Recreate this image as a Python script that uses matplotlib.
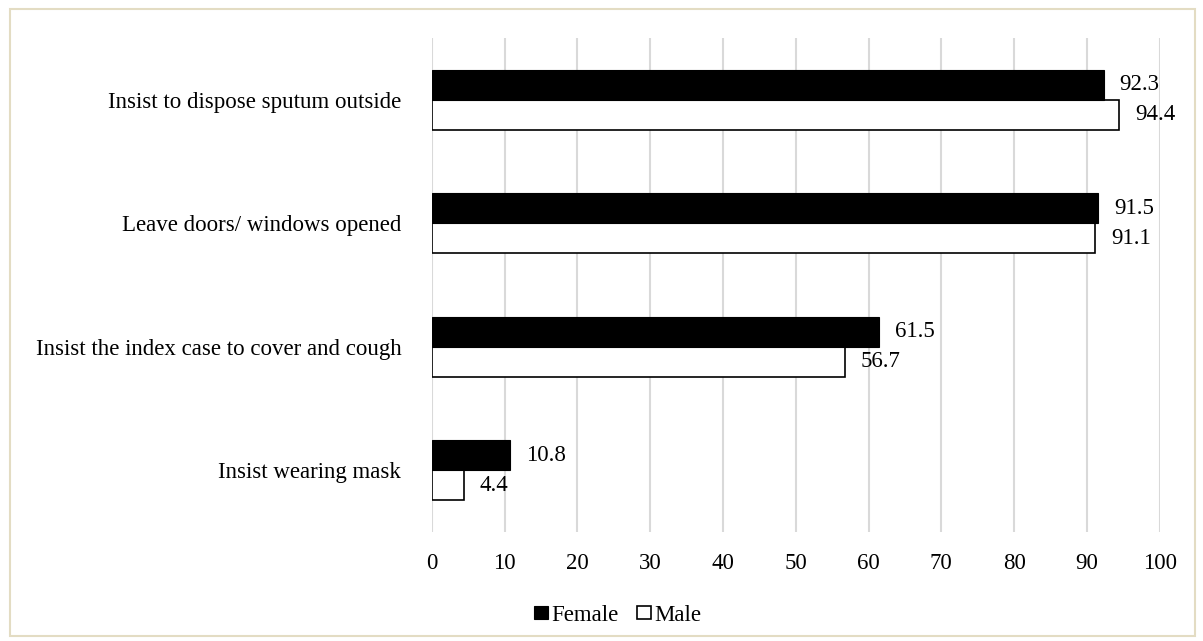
import matplotlib.pyplot as plt
from matplotlib.patches import Rectangle
import numpy as np

plt.rcParams['font.family'] = ['Liberation Serif', 'DejaVu Serif']

categories = ['Insist to dispose sputum outside', 'Leave doors/ windows opened',
              'Insist the index case to cover and cough', 'Insist wearing mask']
female = [92.3, 91.5, 61.5, 10.8]
male = [94.4, 91.1, 56.7, 4.4]

fs = 16.5

fig = plt.figure(figsize=(12.03, 6.41), dpi=100)
ax = fig.add_axes([0.359, 0.170, 0.605, 0.771])

# outer frame
fig.patches.append(Rectangle((0.008, 0.008), 0.985, 0.978, transform=fig.transFigure,
                             fill=False, edgecolor='#e3dcc3', linewidth=1.5))

y = np.arange(len(categories))
h = 0.243
ax.barh(y - h / 2, female, height=h, color='black', edgecolor='black', linewidth=0.8,
        label='Female', zorder=3)
ax.barh(y + h / 2, male, height=h, color='white', edgecolor='black', linewidth=1.2,
        label='Male', zorder=2)

for yi, f, m in zip(y, female, male):
    ax.text(f + 2.2, yi - h / 2, f'{f:.1f}', va='center', ha='left', fontsize=fs)
    ax.text(m + 2.2, yi + h / 2, f'{m:.1f}', va='center', ha='left', fontsize=fs)

ax.set_xlim(0, 100)
ax.set_ylim(len(categories) - 0.5, -0.5)
ax.set_xticks(np.arange(0, 101, 10))
ax.set_yticks(y)
ax.set_yticklabels(categories, fontsize=fs)
ax.tick_params(axis='x', labelsize=fs, length=0, pad=15)
ax.tick_params(axis='y', length=0, pad=22)
ax.grid(axis='x', color='#d9d9d9', linewidth=1.5, zorder=0)
for s in ax.spines.values():
    s.set_visible(False)

leg = ax.legend(loc='upper center', bbox_to_anchor=(0.255, -0.105), ncol=2, frameon=False,
                fontsize=fs, handlelength=0.62, handleheight=0.5, handletextpad=0.15,
                columnspacing=0.8)

fig.savefig('out.png', dpi=100)
